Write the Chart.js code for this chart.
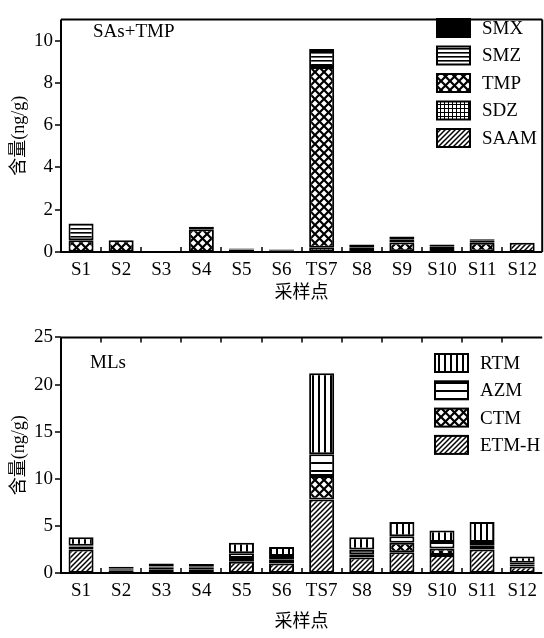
<!DOCTYPE html>
<html>
<head>
<meta charset="utf-8">
<script src="https://cdn.jsdelivr.net/npm/chart.js@4.4.0/dist/chart.umd.min.js"></script>
<style>
  html, body { margin: 0; padding: 0; background: #fff; overflow: hidden; }
  .box { position: absolute; left: 0; width: 544px; }
  #top { top: 0; height: 318px; }
  #bottom { top: 318px; height: 320px; }
</style>
</head>
<body>
<div class="box" id="top"><canvas id="sas-chart"></canvas></div>
<div class="box" id="bottom"><canvas id="mls-chart"></canvas></div>
<script>
    "use strict";

    // Sampling sites
    var sites = ["S1", "S2", "S3", "S4", "S5", "S6", "TS7", "S8", "S9", "S10", "S11", "S12"];

    // SAs + TMP (ng/g), stacked bottom -> top
    var saam = [0, 0, 0, 0, 0, 0, 0, 0, 0, 0, 0, 0.44];
    var sdz  = [0, 0, 0, 0, 0.12, 0.08, 0.2, 0.1, 0.03, 0.1, 0.02, 0];
    var tmp  = [0.55, 0.55, 0, 1.08, 0, 0, 8.55, 0.1, 0.42, 0.15, 0.42, 0];
    var smz  = [0.8, 0, 0, 0.12, 0, 0, 0.75, 0, 0.13, 0, 0.12, 0];
    var smx  = [0, 0, 0, 0, 0.05, 0.04, 0.1, 0.15, 0.15, 0.1, 0.04, 0];

    // MLs (ng/g), stacked bottom -> top
    var etmH = [2.5, 0.3, 0.4, 0.4, 1.2, 1.0, 7.8, 1.65, 2.2, 1.9, 2.5, 0.7];
    var ctm  = [0.3, 0.1, 0.15, 0.15, 0.4, 0.4, 2.5, 0.35, 1.0, 0.7, 0.4, 0.2];
    var azm  = [0.1, 0.1, 0.15, 0.1, 0.5, 0.4, 2.3, 0.5, 0.7, 0.7, 0.4, 0.2];
    var rtm  = [0.9, 0.15, 0.3, 0.3, 1.1, 0.95, 8.6, 1.3, 1.5, 1.2, 2.1, 0.65];

    // Axis ticks
    var sasTicks = { min: 0, max: 11, step: 2 };
    var mlsTicks = { min: 0, max: 25, step: 5 };

    var serif = "'Liberation Serif', 'Noto Sans CJK SC', serif";

    // Fill patterns
    function makePattern(w, h, draw) {
        var c = document.createElement("canvas");
        c.width = w;
        c.height = h;
        var g = c.getContext("2d");
        g.fillStyle = "#fff";
        g.fillRect(0, 0, w, h);
        g.fillStyle = "#000";
        g.strokeStyle = "#000";
        draw(g, w, h);
        return g.createPattern(c, "repeat");
    }

    var hatch = makePattern(5, 5, function (g, w, h) {
        g.lineWidth = 1.5;
        g.beginPath();
        g.moveTo(0, h); g.lineTo(w, 0);
        g.moveTo(-1, 1); g.lineTo(1, -1);
        g.moveTo(w - 1, h + 1); g.lineTo(w + 1, h - 1);
        g.stroke();
    });
    var cross = makePattern(9, 9, function (g, w, h) {
        g.lineWidth = 2.2;
        g.beginPath();
        g.moveTo(0, 0); g.lineTo(w, h);
        g.moveTo(0, h); g.lineTo(w, 0);
        g.stroke();
    });
    var grid = makePattern(4, 4, function (g, w, h) {
        g.fillRect(0, 0, w, 1);
        g.fillRect(0, 0, 1, h);
    });
    var hDense = makePattern(4, 4, function (g, w, h) {
        g.fillRect(0, 0, w, 1.6);
    });
    var hSparse = makePattern(4, 8, function (g, w, h) {
        g.fillRect(0, 0, w, 2);
    });
    var vLines = makePattern(6, 4, function (g, w, h) {
        g.fillRect(0, 0, 2, h);
    });

    function ds(label, data, fill) {
        return {
            label: label,
            data: data,
            backgroundColor: fill,
            borderColor: "#000",
            borderWidth: 2,
            borderSkipped: false,
            categoryPercentage: 0.8,
            barPercentage: 0.78
        };
    }

    // Frame, tick marks, inner legend and panel label
    var framePlugin = {
        id: "frame",
        afterDraw: function (chart, args, opts) {
            var ctx = chart.ctx;
            var a = chart.chartArea;
            var xs = chart.scales.x;
            var ys = chart.scales.y;
            ctx.save();
            ctx.strokeStyle = "#000";
            ctx.lineWidth = 2;
            ctx.beginPath();
            ctx.moveTo(a.left, a.top); ctx.lineTo(a.left, a.bottom); ctx.lineTo(a.right, a.bottom);
            ctx.moveTo(a.left, a.top); ctx.lineTo(a.right, a.top);
            if (opts.right) {
                ctx.moveTo(a.right, a.top); ctx.lineTo(a.right, a.bottom);
            }
            ctx.stroke();

            ctx.lineWidth = 1.5;
            ctx.beginPath();
            ys.ticks.forEach(function (t) {
                var y = Math.round(ys.getPixelForValue(t.value));
                ctx.moveTo(a.left - 6, y); ctx.lineTo(a.left, y);
            });
            for (var i = 0; i < sites.length - 1; i++) {
                var x = Math.round((xs.getPixelForValue(i) + xs.getPixelForValue(i + 1)) / 2);
                ctx.moveTo(x, a.bottom); ctx.lineTo(x, a.bottom - 5);
                if (opts.topTicks) {
                    ctx.moveTo(x, a.top); ctx.lineTo(x, a.top + 5);
                }
            }
            ctx.stroke();

            ctx.fillStyle = "#000";
            ctx.font = "19px " + serif;
            ctx.textBaseline = "middle";
            ctx.fillText(opts.label, opts.labelX, opts.labelY);

            var sets = chart.data.datasets.slice().reverse();
            sets.forEach(function (d, k) {
                var cy = opts.legendY + k * opts.legendGap;
                ctx.fillStyle = d.backgroundColor;
                ctx.fillRect(opts.legendX, cy - 9, 33, 18);
                ctx.lineWidth = 2;
                ctx.strokeRect(opts.legendX, cy - 9, 33, 18);
                ctx.fillStyle = "#000";
                ctx.fillText(d.label, opts.legendX + 45, cy + 1);
            });
            ctx.restore();
        }
    };

    function chartOptions(ticks, padTop, xHeight, xTitlePad, frame) {
        return {
            responsive: true,
            maintainAspectRatio: false,
            animation: false,
            layout: { padding: { top: padTop, right: 1, left: 0, bottom: 0 } },
            plugins: {
                legend: { display: false },
                tooltip: { enabled: false },
                frame: frame
            },
            scales: {
                x: {
                    stacked: true,
                    grid: { display: false, drawTicks: false },
                    border: { display: false },
                    ticks: { color: "#000", font: { family: serif, size: 19 }, padding: 7, maxRotation: 0, autoSkip: false },
                    title: { display: true, text: "采样点", color: "#000", font: { family: serif, size: 18 }, padding: { top: 0, bottom: xTitlePad } },
                    afterFit: function (scale) { scale.height = xHeight; }
                },
                y: {
                    stacked: true,
                    min: ticks.min,
                    max: ticks.max,
                    grid: { display: false, drawTicks: false },
                    border: { display: false },
                    ticks: { stepSize: ticks.step, includeBounds: false, color: "#000", font: { family: serif, size: 19 }, padding: 8 },
                    title: { display: true, text: "含量(ng/g)", color: "#000", font: { family: serif, size: 18 }, padding: { top: 8, bottom: 0 } },
                    afterFit: function (scale) { scale.width = 61; }
                }
            }
        };
    }

    // SAs + TMP chart
    var sasCanvas = document.getElementById("sas-chart");
    if (sasCanvas) {
        new Chart(sasCanvas.getContext("2d"), {
            type: "bar",
            data: {
                labels: sites,
                datasets: [
                    ds("SAAM", saam, hatch),
                    ds("SDZ", sdz, grid),
                    ds("TMP", tmp, cross),
                    ds("SMZ", smz, hDense),
                    ds("SMX", smx, "#000")
                ]
            },
            options: chartOptions(sasTicks, 9, 66, 14, {
                right: true, topTicks: false,
                label: "SAs+TMP", labelX: 93, labelY: 32,
                legendX: 437, legendY: 28, legendGap: 27.5
            }),
            plugins: [framePlugin]
        });
    }

    // MLs chart
    var mlsCanvas = document.getElementById("mls-chart");
    if (mlsCanvas) {
        new Chart(mlsCanvas.getContext("2d"), {
            type: "bar",
            data: {
                labels: sites,
                datasets: [
                    ds("ETM-H", etmH, hatch),
                    ds("CTM", ctm, cross),
                    ds("AZM", azm, hSparse),
                    ds("RTM", rtm, vLines)
                ]
            },
            options: chartOptions(mlsTicks, 16, 65, 5, {
                right: false, topTicks: true,
                label: "MLs", labelX: 90, labelY: 45,
                legendX: 435, legendY: 45, legendGap: 27.3
            }),
            plugins: [framePlugin]
        });
    }
</script>
</body>
</html>
